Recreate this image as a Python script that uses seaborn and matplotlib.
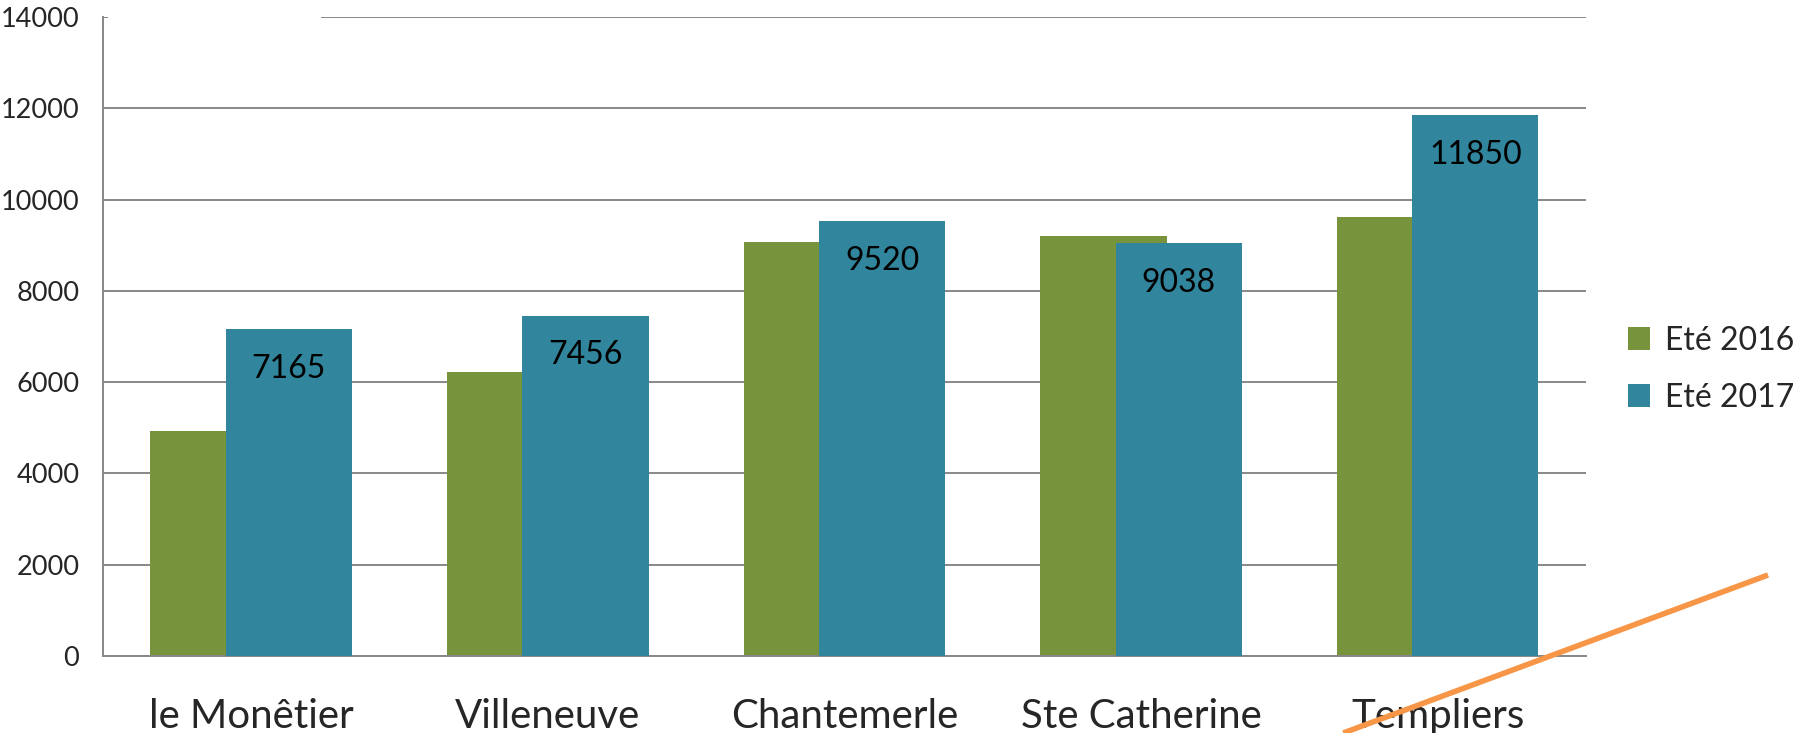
import numpy as np
import matplotlib
matplotlib.use("Agg")
import matplotlib.pyplot as plt
from matplotlib.lines import Line2D
from matplotlib.patches import Rectangle
import seaborn as sns

# --- donnees ---
stations = ["le Monêtier", "Villeneuve", "Chantemerle", "Ste Catherine", "Templiers"]
ete_2016 = [4940, 6230, 9060, 9210, 9620]
ete_2017 = [7165, 7456, 9520, 9038, 11850]
y_ticks = [0, 2000, 4000, 6000, 8000, 10000, 12000, 14000]

GREEN = "#77933C"
BLUE = "#31859C"
GRID = "#888888"

sns.set_style("white")
plt.rcParams["font.family"] = ["Lato", "DejaVu Sans"]

fig = plt.figure(figsize=(18.16, 7.33), dpi=100)
ax = fig.add_axes([0.0567, 0.105, 0.8166, 0.8718])

xs = np.arange(len(stations))
offset = 0.127
width = 0.426

sns.barplot(x=xs - offset, y=ete_2016, native_scale=True, width=width,
            color=GREEN, saturation=1, label="Eté 2016", ax=ax, zorder=2,
            linewidth=0, edgecolor="none")
sns.barplot(x=xs + offset, y=ete_2017, native_scale=True, width=width,
            color=BLUE, saturation=1, label="Eté 2017", ax=ax, zorder=3,
            linewidth=0, edgecolor="none")

# etiquettes dans les barres 2017
for x, v in zip(xs + offset, ete_2017):
    ax.annotate(str(v), xy=(x, v), xytext=(0, -28.5), textcoords="offset points",
                ha="center", va="center", fontsize=23, color="black", zorder=4)

ax.set_xlim(-0.5, len(stations) - 0.5)
ax.set_ylim(0, 14000)
ax.set_xticks(xs)
ax.set_xticklabels(stations, fontsize=29)
ax.set_yticks(y_ticks)
ax.set_yticklabels([str(t) for t in y_ticks], fontsize=19.5)
ax.tick_params(axis="y", length=0, pad=17)
ax.tick_params(axis="x", length=0, pad=30)
ax.set_xlabel("")
ax.set_ylabel("")

ax.set_axisbelow(True)
ax.yaxis.grid(True, color=GRID, linewidth=1.4)
ax.xaxis.grid(False)
for s in ["top", "right"]:
    ax.spines[s].set_visible(False)
for s in ["left", "bottom"]:
    ax.spines[s].set_color(GRID)
    ax.spines[s].set_linewidth(1.4)

# trou dans la ligne du haut
ax.add_patch(Rectangle((0.0035, 0.985), 0.1435, 0.03, transform=ax.transAxes,
                       facecolor="white", edgecolor="none", clip_on=False, zorder=1))

leg = ax.legend(loc="center left", bbox_to_anchor=(1.009, 0.449), frameon=False,
                fontsize=23, handlelength=0.7, handleheight=0.7,
                handletextpad=0.45, labelspacing=0.85)

# trait orange
fig.add_artist(Line2D([0.7397, 0.9736], [0.0, 0.2156], transform=fig.transFigure,
                      color="#F79646", linewidth=4, solid_capstyle="butt", zorder=10))

fig.savefig("out.png", dpi=100)
